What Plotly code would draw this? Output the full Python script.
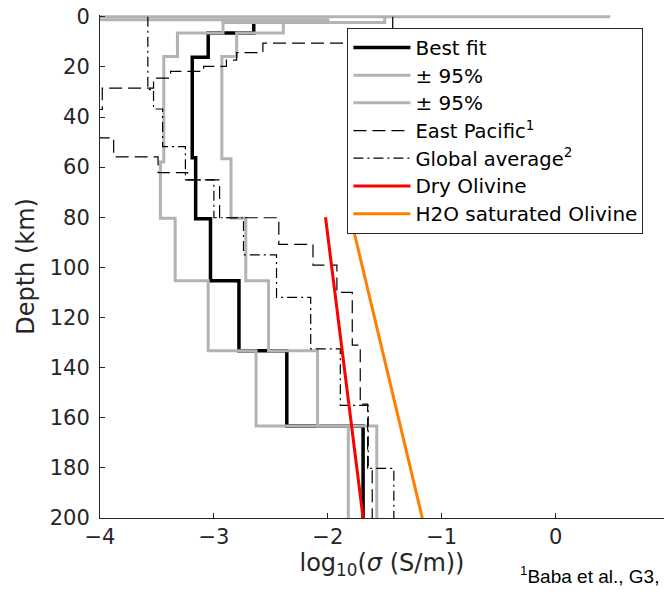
import plotly.graph_objects as go

# ---- data (log10 conductivity in S/m, depth in km) ----
best_fit_sigma = [-2.65, -2.65, -3.05, -3.05, -3.19, -3.19, -3.16, -3.16, -3.03, -3.03,
                  -2.78, -2.78, -2.36, -2.36, -1.69, -1.69]
best_fit_depth = [2.3, 6.5, 6.5, 16.2, 16.2, 56.3, 56.3, 80.6, 80.6, 105.3,
                  105.3, 133.3, 133.3, 163.3, 163.3, 200]

upper95_sigma = [-4.5, 0.48, -1.50, -1.50, -2.39, -2.39, -2.80, -2.80, -2.93, -2.93,
                 -2.85, -2.85, -2.72, -2.72, -2.52, -2.52, -2.09, -2.09, -1.57, -1.57]
upper95_depth = [0, 0, 0, 2.3, 2.3, 6.5, 6.5, 15.9, 15.9, 56.7,
                 56.7, 80.4, 80.4, 105.3, 105.3, 133.3, 133.3, 163.3, 163.3, 200]

lower95_sigma = [-4.5, -2.00, -2.00, -2.92, -2.92, -3.32, -3.32, -3.44, -3.44, -3.47,
                 -3.47, -3.34, -3.34, -3.05, -3.05, -2.63, -2.63, -1.82, -1.82]
lower95_depth = [1.2, 1.2, 2.3, 2.3, 6.5, 6.5, 15.9, 15.9, 58, 58,
                 80.4, 80.4, 105.3, 105.3, 133.3, 133.3, 163.3, 163.3, 200]

east_pacific_sigma = [-1.43, -1.43, -2.57, -2.57, -2.80, -2.80, -2.89, -2.89, -3.09, -3.09,
                      -3.38, -3.38, -3.53, -3.53, -3.98, -3.98, -4.20, -4.20, -3.88, -3.88,
                      -3.49, -3.49, -3.23, -3.23, -2.95, -2.95, -2.43, -2.43, -2.13, -2.13,
                      -1.92, -1.92, -1.785, -1.785, -1.715, -1.715, -1.65, -1.65, -1.61, -1.61]
east_pacific_depth = [0, 10.5, 10.5, 14.3, 14.3, 17.3, 17.3, 19.8, 19.8, 21.8,
                      21.8, 24.5, 24.5, 28.5, 28.5, 37.0, 37.0, 48.3, 48.3, 55.9,
                      55.9, 62.2, 62.2, 65.1, 65.1, 80.2, 80.2, 90.8, 90.8, 99.1,
                      99.1, 110, 110, 131, 131, 154.6, 154.6, 180.5, 180.5, 200]

global_avg_sigma = [-3.58, -3.58, -3.53, -3.53, -3.45, -3.45, -3.25, -3.25, -3.00, -3.00,
                    -2.74, -2.74, -2.45, -2.45, -2.15, -2.15, -1.89, -1.89, -1.645, -1.645,
                    -1.42, -1.42]
global_avg_depth = [0, 29.1, 29.1, 36.8, 36.8, 51.8, 51.8, 65.1, 65.1, 80.2,
                    80.2, 95.0, 95.0, 112.0, 112.0, 132.5, 132.5, 155.1, 155.1, 180.2,
                    180.2, 200]

dry_olivine_sigma = [-2.02, -1.69]
dry_olivine_depth = [80, 200]

wet_olivine_sigma = [-1.80, -1.17]
wet_olivine_depth = [80, 200]

depth_ticks = list(range(0, 201, 20))
sigma_ticks = [-4, -3, -2, -1, 0]

GRAY = "#b3b3b3"
AX = "#262626"
FONT = "DejaVu Sans"


def big(t):
    return '<span style="font-size:20px">' + t + '</span>'


def mid(t):
    return '<span style="font-size:19.5px">' + t + '</span>'


fig = go.Figure()
fig.add_trace(go.Scatter(x=best_fit_sigma, y=best_fit_depth, mode="lines", name=big("Best fit"),
                         line=dict(color="black", width=3.5)))
fig.add_trace(go.Scatter(x=upper95_sigma, y=upper95_depth, mode="lines", name=big("± 95%"),
                         line=dict(color=GRAY, width=3)))
fig.add_trace(go.Scatter(x=lower95_sigma, y=lower95_depth, mode="lines", name=big("± 95%"),
                         line=dict(color=GRAY, width=3)))
fig.add_trace(go.Scatter(x=east_pacific_sigma, y=east_pacific_depth, mode="lines",
                         name=mid("East Pacific<sup>1</sup>"),
                         line=dict(color="black", width=1.2, dash="13px,6px")))
fig.add_trace(go.Scatter(x=global_avg_sigma, y=global_avg_depth, mode="lines",
                         name=mid("Global average<sup>2</sup>"),
                         line=dict(color="black", width=1.2, dash="10px,4px,2px,4px")))
fig.add_trace(go.Scatter(x=dry_olivine_sigma, y=dry_olivine_depth, mode="lines",
                         name=big("Dry Olivine"),
                         line=dict(color="#ff0000", width=3)))
fig.add_trace(go.Scatter(x=wet_olivine_sigma, y=wet_olivine_depth, mode="lines",
                         name=big("H2O saturated Olivine"),
                         line=dict(color="#ff8000", width=3)))

fig.update_layout(
    width=664, height=594,
    margin=dict(l=99.5, r=0, t=15.25, b=76),
    paper_bgcolor="white", plot_bgcolor="white",
    font=dict(family=FONT, color=AX),
    showlegend=True,
    legend=dict(x=0.4387, y=0.975, xanchor="left", yanchor="top",
                bgcolor="white", bordercolor=AX, borderwidth=1,
                font=dict(family=FONT, size=19, color="black"),
                itemwidth=57, tracegroupgap=0),
    xaxis=dict(range=[-4, 0.952], tickvals=sigma_ticks, ticks="inside", ticklen=5,
               tickcolor=AX, showline=True, linecolor=AX, linewidth=1,
               showgrid=False, zeroline=False, tickfont=dict(size=21, color=AX),
               title=dict(text="log<sub>10</sub>(<i>σ</i> (S/m))",
                          font=dict(size=24, color=AX), standoff=0)),
    yaxis=dict(range=[200, -0.7], tickvals=depth_ticks, ticks="inside", ticklen=5,
               tickcolor=AX, showline=True, linecolor=AX, linewidth=1,
               showgrid=False, zeroline=False, tickfont=dict(size=21, color=AX),
               ticklabelstandoff=5,
               title=dict(text="Depth (km)", font=dict(size=24, color=AX), standoff=8)),
)

fig.add_annotation(text="<sup>1</sup>Baba et al., G3,", xref="paper", yref="paper",
                   x=1.0, y=-0.113, xanchor="right", yanchor="middle", xshift=-3,
                   showarrow=False, font=dict(family="Liberation Sans", size=19, color="black"))

fig.write_html("out.html")
